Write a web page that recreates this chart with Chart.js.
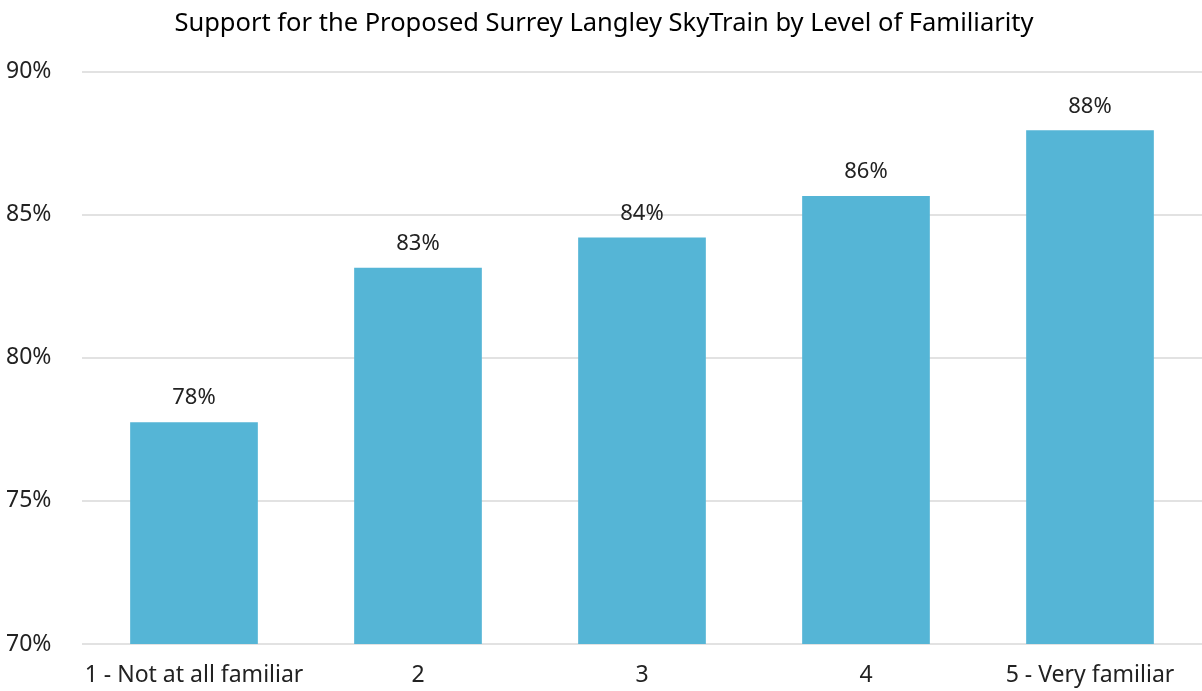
<!DOCTYPE html>
<html lang="en">
<head>
  <meta charset="UTF-8" />
  <title>Support by Level of Familiarity</title>
  <script src="https://cdn.jsdelivr.net/npm/chart.js"></script>
</head>
<body style="margin: 0; padding: 0; background: #fff;">
  <div style="width: 1202px; height: 691px;">
    <canvas id="barChart"></canvas>
  </div>

  <script>
    const categories = ['1 - Not at all familiar', '2', '3', '4', '5 - Very familiar'];
    const supportValues = [77.75, 83.15, 84.2, 85.65, 87.95];
    const tickValues = [70, 75, 80, 85, 90];

    // draws the rounded value above each bar
    const valueLabels = {
      id: 'valueLabels',
      afterDatasetsDraw(chart) {
        const ctx = chart.ctx;
        const meta = chart.getDatasetMeta(0);
        ctx.save();
        ctx.font = '22px "Noto Sans", sans-serif';
        ctx.fillStyle = '#222';
        ctx.textAlign = 'center';
        ctx.textBaseline = 'bottom';
        meta.data.forEach((bar, i) => {
          ctx.fillText(Math.round(supportValues[i]) + '%', bar.x, bar.y - 13);
        });
        ctx.restore();
      }
    };

    const ctx = document.getElementById('barChart').getContext('2d');
    new Chart(ctx, {
      type: 'bar',
      data: {
        labels: categories,
        datasets: [{
          label: 'Support',
          data: supportValues,
          backgroundColor: '#55B5D6',
          categoryPercentage: 1,
          barPercentage: 0.57
        }]
      },
      options: {
        responsive: true,
        maintainAspectRatio: false,
        animation: false,
        layout: { padding: { left: 6, right: 0, top: 4, bottom: 0 } },
        plugins: {
          legend: { display: false },
          tooltip: { enabled: false },
          title: {
            display: true,
            text: 'Support for the Proposed Surrey Langley SkyTrain by Level of Familiarity',
            color: '#000',
            font: { family: '"Noto Sans", sans-serif', size: 25.5, weight: 'normal' },
            padding: { top: 4, bottom: 33 }
          }
        },
        scales: {
          x: {
            afterFit(axis) {
              axis.height = 47;
            },
            grid: { display: false, drawTicks: false },
            border: { display: false },
            ticks: {
              color: '#222',
              font: { family: '"Noto Sans", sans-serif', size: 23 },
              padding: 18,
              maxRotation: 0,
              autoSkip: false
            }
          },
          y: {
            min: 70,
            max: 90,
            afterBuildTicks(axis) {
              axis.ticks = tickValues.map(v => ({ value: v }));
            },
            afterFit(axis) {
              axis.width = 76;
            },
            grid: { color: '#e2e2e2', lineWidth: 2, drawTicks: false },
            border: { display: false },
            ticks: {
              color: '#222',
              crossAlign: 'far',
              padding: 14,
              font: { family: '"Noto Sans", sans-serif', size: 23 },
              callback: v => v + '%'
            }
          }
        }
      },
      plugins: [valueLabels]
    });
  </script>
</body>
</html>
